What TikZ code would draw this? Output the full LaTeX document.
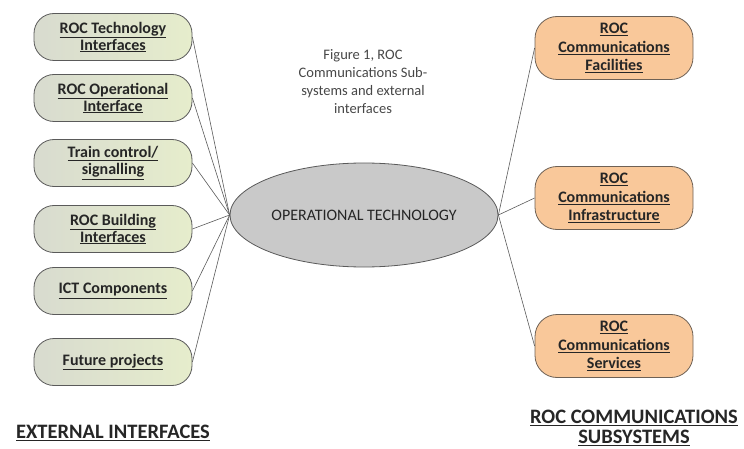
\documentclass[tikz,border=0pt]{standalone}
\usepackage{fontspec}
\setmainfont{Carlito}
\usetikzlibrary{shapes.geometric}
\definecolor{txt}{HTML}{262626}
\definecolor{grnL}{HTML}{D8DBCF}
\definecolor{grnR}{HTML}{E6EDCC}
\definecolor{orng}{HTML}{F9C89A}
\definecolor{ellf}{HTML}{C9C9C9}
\definecolor{edge}{HTML}{5A5A5A}
\newcommand{\myul}[1]{\underline{#1}}
\tikzset{
  extbox/.style={draw=edge, line width=0.8pt, rounded corners=20pt, left color=grnL, right color=grnR,
    minimum width=158pt, minimum height=47pt, align=center, font=\bfseries\fontsize{16}{17}\selectfont, text=txt, inner sep=1pt},
  subbox/.style={draw=edge!80!brown, line width=0.8pt, rounded corners=22pt, fill=orng,
    minimum width=158pt, minimum height=63pt, align=center, font=\bfseries\fontsize{16}{18.5}\selectfont, text=txt, inner sep=1pt},
  conn/.style={draw=edge, line width=0.6pt},
  lbl/.style={align=center, font=\bfseries\fontsize{20.5}{20}\selectfont, text=txt, inner sep=1pt}
}
\begin{document}
\begin{tikzpicture}[x=1pt,y=-1pt]
\useasboundingbox (0,0) rectangle (744,449);
\node[extbox] (e1) at (113,37) {\myul{ROC Technology}\\\myul{Interfaces}};
\node[extbox] (e2) at (113,98) {\myul{ROC Operational}\\\myul{Interface}};
\node[extbox] (e3) at (113,163) {\myul{Train control/}\\\myul{signalling}};
\node[extbox] (e4) at (113,229) {\myul{ROC Building}\\\myul{Interfaces}};
\node[extbox] (e5) at (113,291) {\myul{ICT Components}};
\node[extbox] (e6) at (113,362) {\myul{Future projects}};
\node[draw=edge, line width=0.8pt, fill=ellf, ellipse, minimum width=268pt, minimum height=104pt,
  font=\fontsize{16}{18}\selectfont, text=txt, inner sep=0pt] (ot) at (364,215) {OPERATIONAL TECHNOLOGY};
\node[subbox] (s1) at (614,48) {\myul{ROC}\\\myul{Communications}\\\myul{Facilities}};
\node[subbox] (s2) at (614,198) {\myul{ROC}\\\myul{Communications}\\\myul{Infrastructure}};
\node[subbox] (s3) at (614,346) {\myul{ROC}\\\myul{Communications}\\\myul{Services}};
\node[align=center, font=\fontsize{14.5}{18}\selectfont, text=txt!85] (title) at (363,82)
  {Figure 1, ROC\\Communications Sub-\\systems and external\\interfaces};
\node[lbl] (l1) at (113,433) {\myul{EXTERNAL INTERFACES}};
\node[lbl] (l2) at (634,428) {\myul{ROC COMMUNICATIONS}\\\myul{SUBSYSTEMS}};
\foreach \n in {e1,e2,e3,e4,e5,e6} \draw[conn] (\n.east) -- (ot.west);
\foreach \n in {s1,s2,s3} \draw[conn] (ot.east) -- (\n.west);
\end{tikzpicture}
\end{document}
